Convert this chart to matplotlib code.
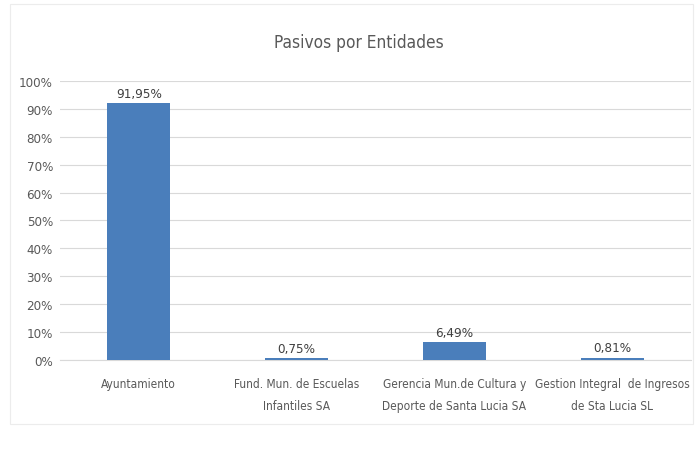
import matplotlib.pyplot as plt
from matplotlib.patches import Rectangle

# Datos
entidades = [
    'Ayuntamiento',
    'Fund. Mun. de Escuelas\nInfantiles SA',
    'Gerencia Mun.de Cultura y\nDeporte de Santa Lucia SA',
    'Gestion Integral  de Ingresos\nde Sta Lucia SL',
]
pasivos = [91.95, 0.75, 6.49, 0.81]
etiquetas = ['91,95%', '0,75%', '6,49%', '0,81%']
ticks_y = [0, 10, 20, 30, 40, 50, 60, 70, 80, 90, 100]

plt.rcParams['font.family'] = ['DejaVu Sans']
plt.rcParams['font.stretch'] = 'condensed'
gris = '#595959'

fig = plt.figure(figsize=(6.96, 4.52), dpi=100)
ax = fig.add_axes([0.086, 0.2013, 0.907, 0.6175])

# marco del grafico
fig.patches.append(Rectangle((0.015, 0.06), 0.98, 0.93, transform=fig.transFigure,
                             fill=False, edgecolor='#ececec', linewidth=0.8))

x = range(len(entidades))
barras = ax.bar(x, pasivos, width=0.4, color='#4a7ebb', zorder=3)

for i, v in enumerate(pasivos):
    ax.text(i, v + 1.2, etiquetas[i], ha='center', va='bottom', fontsize=9.6, color='#404040')

ax.set_xlim(-0.5, len(entidades) - 0.5)
ax.set_ylim(0, 100)
ax.set_yticks(ticks_y)
ax.set_yticklabels([f'{t}%' for t in ticks_y], fontsize=9.5, color=gris)
ax.set_xticks(list(x))
ax.set_xticklabels(entidades, fontsize=8.6, color=gris, linespacing=1.9)
ax.tick_params(axis='y', length=0, pad=5)
ax.tick_params(axis='x', length=0, pad=12)
ax.grid(axis='y', color='#d9d9d9', linewidth=0.8, zorder=0)
for s in ['top', 'right', 'left']:
    ax.spines[s].set_visible(False)
ax.spines['bottom'].set_color('#d9d9d9')

fig.text(0.516, 0.905, 'Pasivos por Entidades', ha='center', va='center', fontsize=12.4, color=gris)

plt.savefig('out.png', dpi=100)
